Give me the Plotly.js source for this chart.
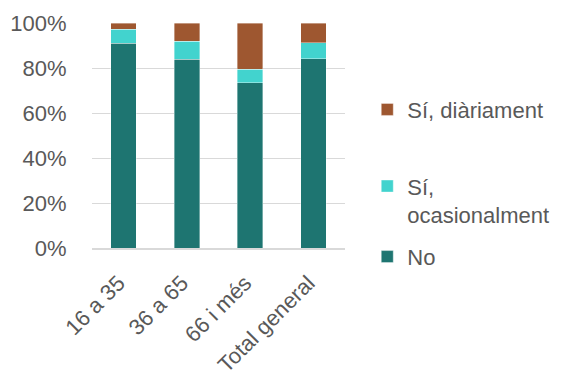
<!DOCTYPE html>
<html>
<head>
<meta charset="utf-8">
<script src="https://cdn.plot.ly/plotly-3.0.1.min.js"></script>
<style>html,body{margin:0;padding:0;background:#fff;}#chart{width:566px;height:375px;}</style>
</head>
<body>
<div id="chart"></div>
<script>
const categories = ["16 a 35", "36 a 65", "66 i més", "Total general"];
const seriesNames = ["No", "Sí,<br>ocasionalment", "Sí, diàriament"];
const noValues = [0.911, 0.838, 0.735, 0.841];
const ocasionalValues = [0.062, 0.080, 0.059, 0.071];
const diariValues = [0.027, 0.082, 0.206, 0.088];
const yTickValues = [0, 0.2, 0.4, 0.6, 0.8, 1.0];
const yTickLabels = ["0%", "20%", "40%", "60%", "80%", "100%"];

const colors = ["#1E7571", "#42D3CE", "#9E5730"];
const font = {family: "Liberation Sans, Arial, sans-serif", size: 22, color: "#595959"};
const barLine = {color: "rgba(255,255,255,0.5)", width: 0.75};

const data = [
  {type: "bar", name: seriesNames[0], x: categories, y: noValues, marker: {color: colors[0], line: barLine}, legend: "legend3"},
  {type: "bar", name: seriesNames[1], x: categories, y: ocasionalValues, marker: {color: colors[1], line: barLine}, legend: "legend2"},
  {type: "bar", name: seriesNames[2], x: categories, y: diariValues, marker: {color: colors[2], line: barLine}, legend: "legend"}
];

const legendBase = {xanchor: "left", yanchor: "middle", x: 1.088, font: font, bgcolor: "rgba(0,0,0,0)", valign: "top", itemclick: false};

const layout = {
  width: 566, height: 375,
  margin: {l: 92, r: 217, t: 23, b: 127, pad: 0},
  paper_bgcolor: "#ffffff", plot_bgcolor: "#ffffff",
  barmode: "stack",
  bargap: 0.6,
  font: font,
  xaxis: {
    type: "category",
    tickangle: -45,
    tickfont: font,
    showgrid: false,
    showline: true, linecolor: "#D9D9D9", linewidth: 1.5,
    ticks: "", ticklabelstandoff: 12, ticklabelshift: -5, fixedrange: true
  },
  yaxis: {
    range: [0, 1],
    tickvals: yTickValues, ticktext: yTickLabels,
    tickfont: font,
    showgrid: true, gridcolor: "#D9D9D9", gridwidth: 1,
    zeroline: false, showline: false,
    ticks: "outside", ticklen: 20, tickcolor: "rgba(0,0,0,0)",
    fixedrange: true
  },
  legend: Object.assign({}, legendBase, {y: 0.615}),
  legend2: Object.assign({}, legendBase, {y: 0.21}),
  legend3: Object.assign({}, legendBase, {y: -0.039}),
  showlegend: true
};

Plotly.newPlot("chart", data, layout, {displayModeBar: false, staticPlot: true});
</script>
</body>
</html>
